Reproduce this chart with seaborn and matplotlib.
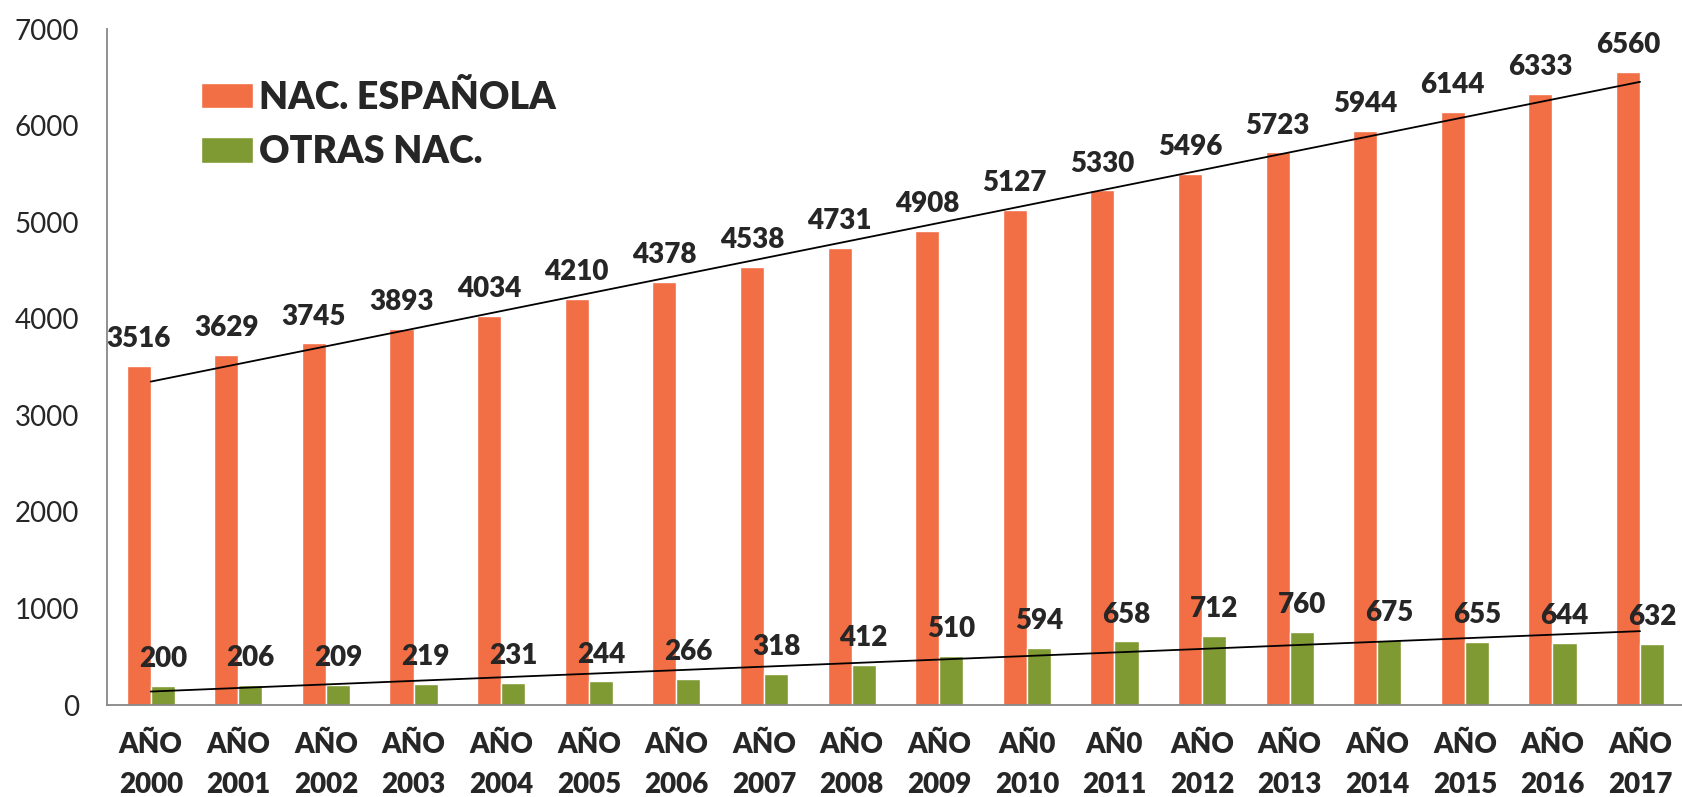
import numpy as np
import pandas as pd
import matplotlib
matplotlib.use("Agg")
import matplotlib.pyplot as plt
import seaborn as sns

# datos
anios = ['AÑO\n2000', 'AÑO\n2001', 'AÑO\n2002', 'AÑO\n2003', 'AÑO\n2004', 'AÑO\n2005',
         'AÑO\n2006', 'AÑO\n2007', 'AÑO\n2008', 'AÑO\n2009', 'AÑ0\n2010', 'AÑ0\n2011',
         'AÑO\n2012', 'AÑO\n2013', 'AÑO\n2014', 'AÑO\n2015', 'AÑO\n2016', 'AÑO\n2017']
nac_espanola = [3516, 3629, 3745, 3893, 4034, 4210, 4378, 4538, 4731,
                4908, 5127, 5330, 5496, 5723, 5944, 6144, 6333, 6560]
otras_nac = [200, 206, 209, 219, 231, 244, 266, 318, 412,
             510, 594, 658, 712, 760, 675, 655, 644, 632]
series = ['NAC. ESPAÑOLA', 'OTRAS NAC.']
colores = ['#F26E45', '#7F9933']
y_ticks = [0, 1000, 2000, 3000, 4000, 5000, 6000, 7000]

df = pd.DataFrame({
    'anio': anios * 2,
    'valor': nac_espanola + otras_nac,
    'serie': [series[0]] * len(anios) + [series[1]] * len(anios),
})

sns.set_style('white')
plt.rcParams['font.family'] = ['Lato', 'DejaVu Sans']

fig = plt.figure(figsize=(16.82, 7.97), dpi=100)
ax = fig.add_axes([0.0636, 0.1154, 0.9375, 0.848])

sns.barplot(data=df, x='anio', y='valor', hue='serie', palette=colores,
            width=0.55, gap=0, saturation=1, ax=ax)

for cont in ax.containers:
    ax.bar_label(cont, fmt='%d', padding=10, fontsize=20, fontweight='heavy')

# lineas de tendencia (lineal)
pos = np.arange(len(anios))
for vals in (nac_espanola, otras_nac):
    sns.regplot(x=pos, y=vals, scatter=False, ci=None, truncate=True,
                color='black', line_kws={'linewidth': 1.3}, ax=ax)

ax.set_xlim(-0.5, len(anios) - 0.5)
ax.set_ylim(0, 7000)
ax.set_yticks(y_ticks)
ax.set_xlabel('')
ax.set_ylabel('')

# ticks entre grupos, etiquetas centradas
ax.set_xticks(np.arange(len(anios) + 1) - 0.5)
ax.set_xticklabels([])
ax.set_xticks(pos, minor=True)
ax.set_xticklabels(anios, minor=True, fontsize=20, fontweight='heavy', linespacing=1.7)
ax.tick_params(axis='x', which='minor', length=0, pad=19)
ax.tick_params(axis='x', which='major', length=7, width=1.3, color='#878787', direction='out')
ax.tick_params(axis='y', length=7, width=1.3, color='#878787', direction='out',
               labelsize=20, pad=13)

sns.despine(ax=ax)
for s in ('left', 'bottom'):
    ax.spines[s].set_color('#878787')
    ax.spines[s].set_linewidth(1.3)

handles, labels = ax.get_legend_handles_labels()
ax.get_legend().remove()
fig.legend(handles[:2], labels[:2], loc='upper left', bbox_to_anchor=(0.1195, 0.9),
           bbox_transform=fig.transFigure, frameon=False, borderpad=0,
           borderaxespad=0, handlelength=1.39, handleheight=0.67,
           handletextpad=0.15, labelspacing=0.54,
           prop={'size': 27, 'weight': 'heavy'})

fig.savefig('out.png', dpi=100)
